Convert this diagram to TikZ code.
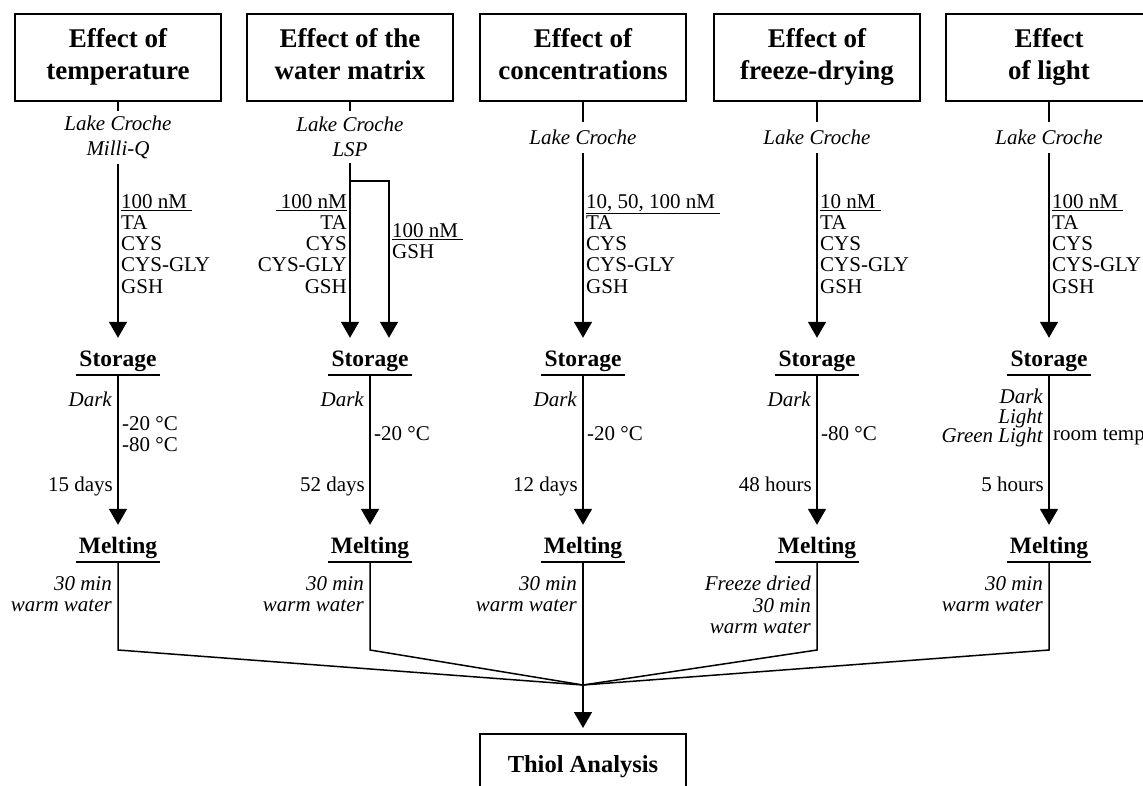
\documentclass[tikz,border=0pt]{standalone}
\usepackage{fontspec}
\setmainfont{Liberation Serif}
\usetikzlibrary{arrows.meta,calc}
\begin{document}
\begin{tikzpicture}[x=1pt,y=-1pt,
  ln/.style={line width=1.5pt},
  arr/.style={ln,-{Triangle[width=18pt,length=16pt]}},
  titlebox/.style={draw,line width=1.6pt,minimum width=206pt,minimum height=87pt,inner sep=0pt,align=center,font=\fontsize{27}{32}\selectfont\bfseries},
  src/.style={inner xsep=2pt,align=center,font=\fontsize{21}{25}\selectfont\itshape},
  conc/.style={inner sep=0pt,font=\fontsize{21}{21.25}\selectfont},
  stage/.style={inner sep=0pt,minimum width=83pt,text height=28pt,text depth=9pt,anchor=base,font=\fontsize{23.5}{28}\selectfont\bfseries},
  note/.style={inner sep=0pt,font=\fontsize{21}{21.5}\selectfont\itshape},
  plain/.style={inner sep=0pt,font=\fontsize{21}{21.5}\selectfont},
]
\useasboundingbox (0,0) rectangle (1143,785);
\clip (0,0) rectangle (1143,785);

% title boxes
\node[titlebox] (b1) at (118,57.5) {\strut Effect of\\temperature\strut};
\node[titlebox] (b2) at (350,57.5) {\strut Effect of the\\water matrix\strut};
\node[titlebox] (b3) at (583,57.5) {\strut Effect of\\concentrations\strut};
\node[titlebox] (b4) at (817,57.5) {\strut Effect of\\freeze-drying\strut};
\node[titlebox] (b5) at (1049,57.5) {\strut Effect\\of light\strut};

% sources
\node[src,inner ysep=5pt] (s1) at (118,137.5) {Lake Croche\\Milli-Q};
\node[src,inner ysep=6pt] (s2) at (350,137) {Lake Croche\\LSP};
\node[src,inner ysep=8pt] (s3) at (583,137.5) {Lake Croche};
\node[src,inner ysep=8pt] (s4) at (817,137.5) {Lake Croche};
\node[src,inner ysep=8pt] (s5) at (1049,137.5) {Lake Croche};

\foreach \i in {1,...,5} { \draw[ln] (b\i.south) -- (s\i.north); }

% concentrations
\node[conc,anchor=north west,align=left] (k1) at (121,194) {\underline{100 nM\ }\\TA\\CYS\\CYS-GLY\\GSH};
\node[conc,anchor=north east,align=right] (k2) at (347,194) {\underline{\ 100 nM}\\TA\\CYS\\CYS-GLY\\GSH};
\node[conc,anchor=north west,align=left] (k2b) at (392,223) {\underline{100 nM\ }\\GSH};
\node[conc,anchor=north west,align=left] (k3) at (586,194) {\underline{10, 50, 100 nM\ }\\TA\\CYS\\CYS-GLY\\GSH};
\node[conc,anchor=north west,align=left] (k4) at (820,194) {\underline{10 nM\ }\\TA\\CYS\\CYS-GLY\\GSH};
\node[conc,anchor=north west,align=left] (k5) at (1052,194) {\underline{100 nM\ }\\TA\\CYS\\CYS-GLY\\GSH};

% storage
\node[stage] (st1) at (118,366) {Storage};
\node[stage] (st2) at (370,366) {Storage};
\node[stage] (st3) at (583,366) {Storage};
\node[stage] (st4) at (817,366) {Storage};
\node[stage] (st5) at (1049,366) {Storage};

% melting
\node[stage] (m1) at (118,553) {Melting};
\node[stage] (m2) at (370,553) {Melting};
\node[stage] (m3) at (583,553) {Melting};
\node[stage] (m4) at (817,553) {Melting};
\node[stage] (m5) at (1049,553) {Melting};

\foreach \i in {1,...,5} {
  \draw[ln] (st\i.south west) -- (st\i.south east);
  \draw[ln] (m\i.south west) -- (m\i.south east);
  \draw[arr] (st\i.south) -- (m\i.north);
}

% arrows to storage
\draw[arr] (s1.south) -- (st1.north);
\draw[arr] (s2.south) -- (s2.south |- st2.north);
\coordinate (br1) at (350,181);
\coordinate (br2) at (389,181);
\draw[arr] (br1) -- (br2) -- (br2 |- st2.north);
\draw[arr] (s3.south) -- (st3.north);
\draw[arr] (s4.south) -- (st4.north);
\draw[arr] (s5.south) -- (st5.north);

% storage conditions
\node[note,anchor=base east] (d1) at (112,406) {Dark};
\node[note,anchor=base east] (d2) at (364,406) {Dark};
\node[note,anchor=base east] (d3) at (577,406) {Dark};
\node[note,anchor=base east] (d4) at (811,406) {Dark};
\node[note,anchor=east,align=right,font=\fontsize{21}{19.5}\selectfont\itshape] (d5) at (1043,418) {Dark\\Light\\Green Light};

\node[plain,anchor=west,align=left] (t1) at (122,434) {-20 °C\\-80 °C};
\node[plain,anchor=base west] (t2) at (374,440) {-20 °C};
\node[plain,anchor=base west] (t3) at (587,440) {-20 °C};
\node[plain,anchor=base west] (t4) at (821,440) {-80 °C};
\node[plain,anchor=base west] (t5) at (1053,440) {room temp};

\node[plain,anchor=base east] (p1) at (113,491) {15 days};
\node[plain,anchor=base east] (p2) at (365,491) {52 days};
\node[plain,anchor=base east] (p3) at (578,491) {12 days};
\node[plain,anchor=base east] (p4) at (812,491) {48 hours};
\node[plain,anchor=base east] (p5) at (1044,491) {5 hours};

% melting notes
\node[note,anchor=east,align=right] (n1) at (112,594) {30 min\\warm water};
\node[note,anchor=east,align=right] (n2) at (364,594) {30 min\\warm water};
\node[note,anchor=east,align=right] (n3) at (577,594) {30 min\\warm water};
\node[note,anchor=east,align=right] (n4) at (811,605) {Freeze dried\\30 min\\warm water};
\node[note,anchor=east,align=right] (n5) at (1043,594) {30 min\\warm water};

% merge
\coordinate (mg) at (583,685);
\coordinate (c1) at (118,650);
\coordinate (c2) at (370,650);
\coordinate (c4) at (817,650);
\coordinate (c5) at (1049,650);
\draw[ln] (m1.south) -- (c1) -- (mg);
\draw[ln] (m2.south) -- (c2) -- (mg);
\draw[ln] (m4.south) -- (c4) -- (mg);
\draw[ln] (m5.south) -- (c5) -- (mg);
\draw[ln] (m3.south) -- (mg);

\node[draw,line width=1.6pt,anchor=north,minimum width=206pt,inner ysep=0pt,text height=39pt,text depth=48pt,font=\fontsize{24.5}{28}\selectfont\bfseries] (th) at (583,733) {Thiol Analysis};
\draw[arr,shorten >=5pt] (mg) -- (th.north);
\end{tikzpicture}
\end{document}
